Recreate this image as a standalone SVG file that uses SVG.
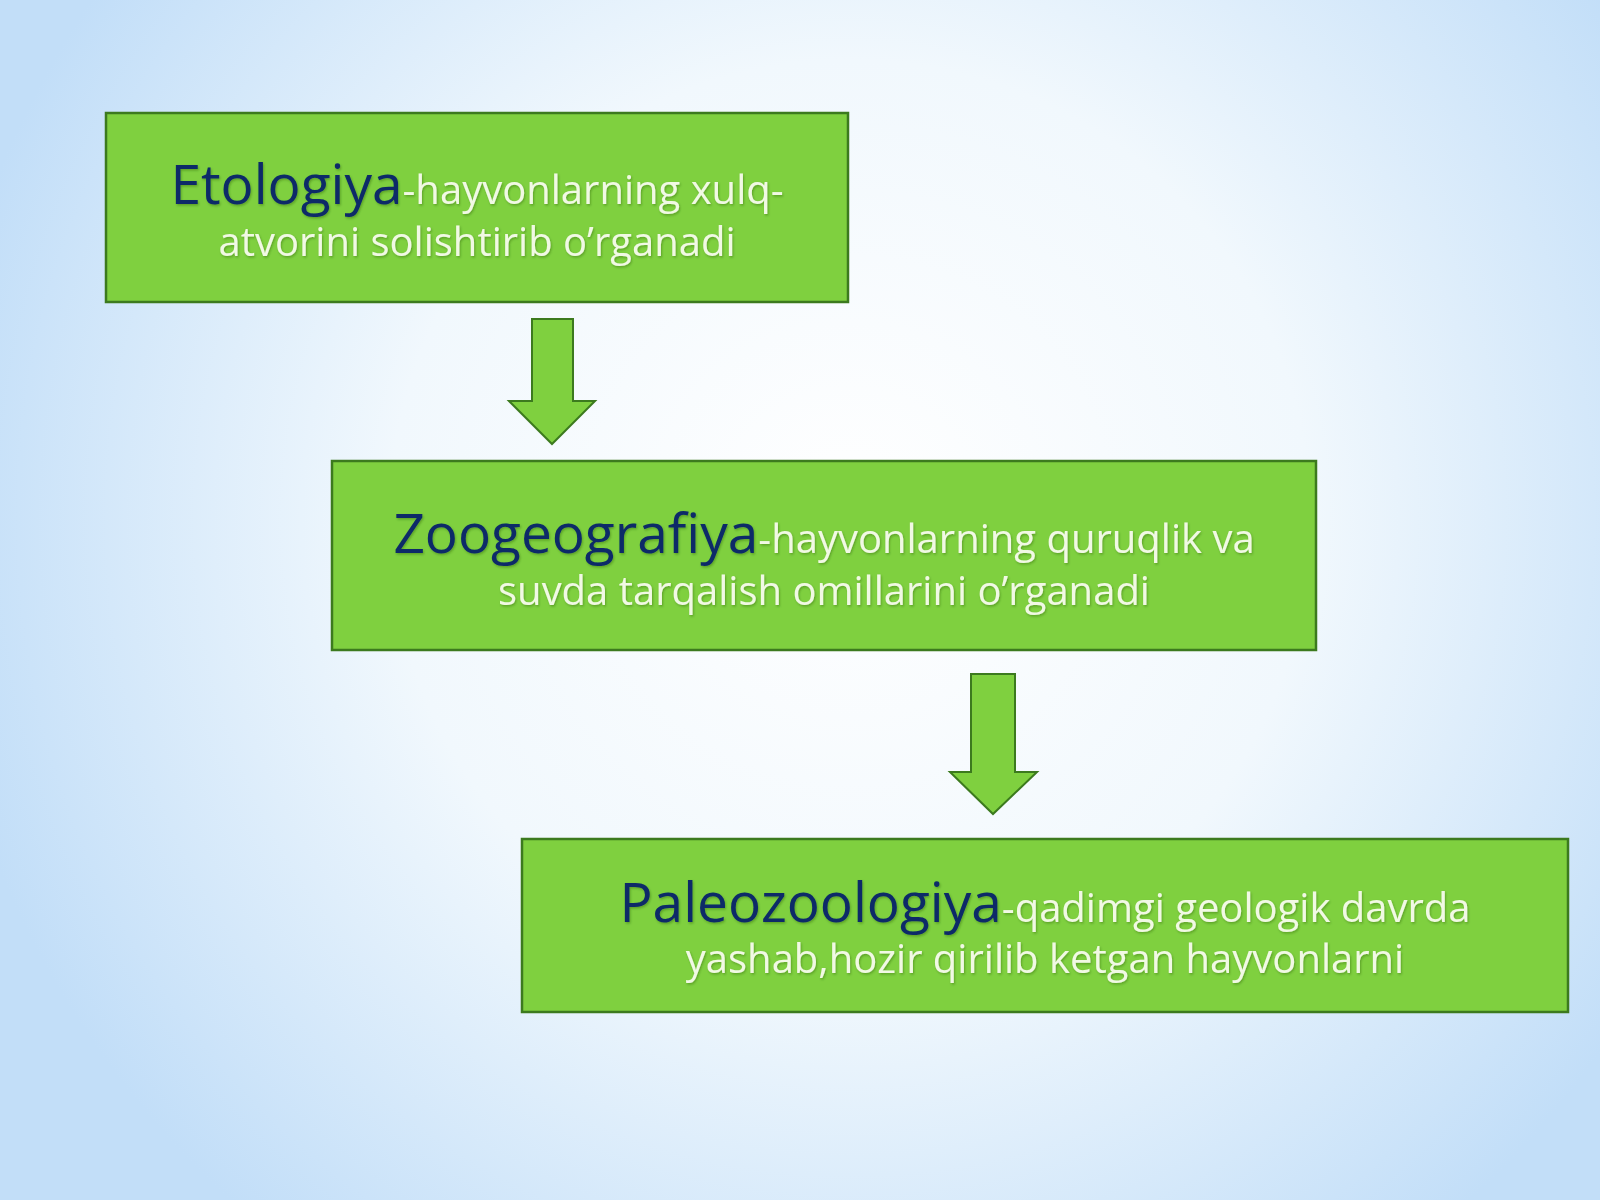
<svg xmlns="http://www.w3.org/2000/svg" width="1600" height="1200" viewBox="0 0 1600 1200">
<style>
.box{fill:#7fd03f;stroke:#3c7a1e;stroke-width:2.5}
.arrow{fill:#7fd03f;stroke:#3c7a1e;stroke-width:2}
.t{font-family:"Open Sans","Noto Sans","DejaVu Sans",sans-serif;text-anchor:middle;filter:url(#sh)}
.big{fill:#0b2a68;font-size:55px}
.sm{fill:#f1f9e4;font-size:40px}
</style>
<defs>
<radialGradient id="bg" cx="850" cy="520" r="920" gradientUnits="userSpaceOnUse">
<stop offset="0" stop-color="#ffffff"/>
<stop offset="0.5" stop-color="#f1f8fd"/>
<stop offset="1" stop-color="#c2def8"/>
</radialGradient>
<filter id="sh" x="-5%" y="-30%" width="110%" height="160%">
<feDropShadow dx="1" dy="1.5" stdDeviation="1" flood-color="#2a5a10" flood-opacity="0.4"/>
</filter>
</defs>
<rect width="1600" height="1200" fill="url(#bg)"/>
<g id="connectors">
<path class="arrow" d="M532 319 H573 V401 H595 L552 444 L509 401 H532 Z"/>
<path class="arrow" d="M971 674 H1015 V772 H1037 L993 814 L950 772 H971 Z"/>
</g>
<g id="node-etologiya">
<rect class="box" x="106" y="113" width="742" height="189"/>
<text class="t" x="477" y="204"><tspan class="big">Etologiya</tspan><tspan class="sm">-hayvonlarning xulq-</tspan></text>
<text class="t sm" x="477" y="256">atvorini solishtirib o’rganadi</text>
</g>
<g id="node-zoogeografiya">
<rect class="box" x="332" y="461" width="984" height="189"/>
<text class="t" x="824" y="553"><tspan class="big">Zoogeografiya</tspan><tspan class="sm">-hayvonlarning quruqlik va</tspan></text>
<text class="t sm" x="824" y="605">suvda tarqalish omillarini o’rganadi</text>
</g>
<g id="node-paleozoologiya">
<rect class="box" x="522" y="839" width="1046" height="173"/>
<text class="t" x="1045" y="922"><tspan class="big">Paleozoologiya</tspan><tspan class="sm">-qadimgi geologik davrda</tspan></text>
<text class="t sm" x="1045" y="973">yashab,hozir qirilib ketgan hayvonlarni</text>
</g>
</svg>
